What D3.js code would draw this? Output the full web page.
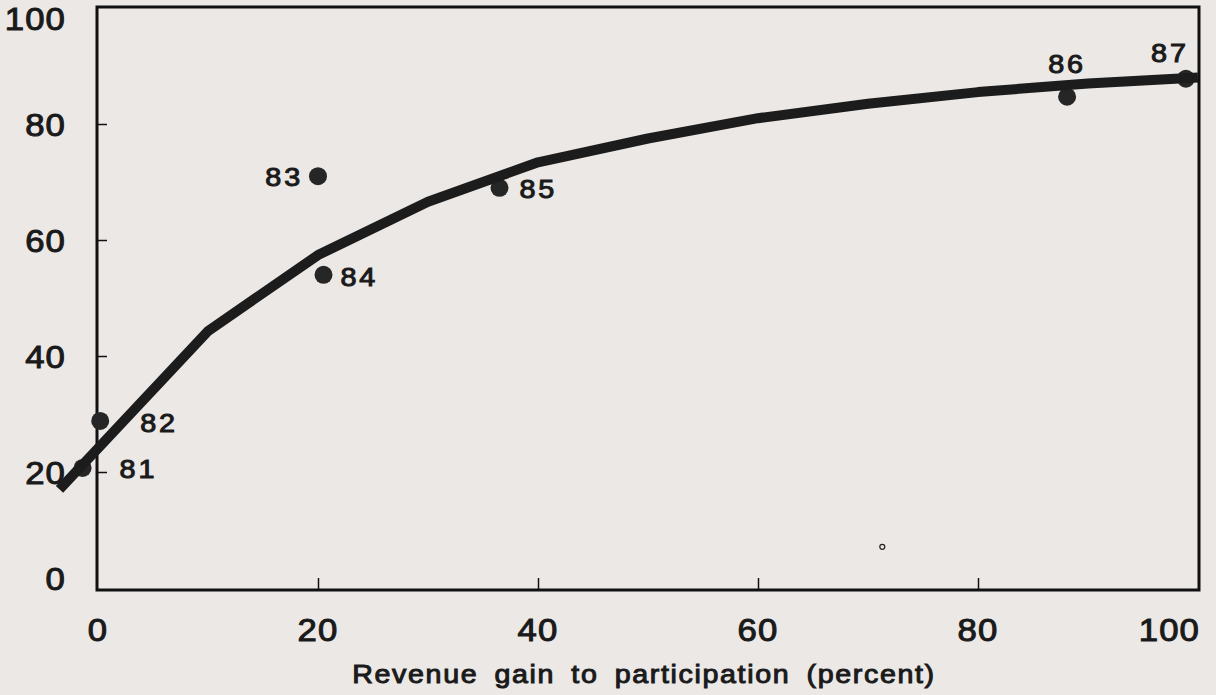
<!DOCTYPE html>
<html><head><meta charset="utf-8">
<script src="https://cdn.jsdelivr.net/npm/d3@7"></script>
<style>
html,body{margin:0;padding:0;background:#ebe8e6;}
svg{display:block;}
text{font-family:"Liberation Sans",Arial,sans-serif;fill:#1a1a1a;stroke:#1a1a1a;stroke-width:1px;}
</style></head>
<body>
<script>
// Data
const years = ["81","82","83","84","85","86","87"];
const revenueGain = [-1.4, 0.2, 20.0, 20.5, 36.5, 88.1, 98.9];
const participation = [20.7, 28.8, 71.0, 54.0, 69.0, 84.7, 87.8];
const curveX = [-3.5, 10, 20, 30, 40, 50, 60, 70, 80, 90, 100];
const curveY = [17, 44.3, 57.4, 66.6, 73.4, 77.5, 81.0, 83.5, 85.5, 87.0, 88.0];
const xTicks = [0, 20, 40, 60, 80, 100];
const yTicks = [0, 20, 40, 60, 80, 100];
const xTitle = "Revenue gain to participation (percent)";
const specks = [[71.3, 7.1]];
// label placement relative to each point
const labelSide = ["right","right","left","right","right","above","above"];
const labelDx = [37, 40, -15, 17, 20, 0, -16];
const labelDy = [10, 11, 10, 11, 10, -24, -17];

const W = 1216, H = 695;
const svg = d3.select("body").append("svg").attr("width", W).attr("height", H);
const x = d3.scaleLinear().domain([0, 100]).range([98, 1198]);
const y = d3.scaleLinear().domain([0, 100]).range([588, 8]);

// frame
svg.append("rect").attr("x", 97).attr("y", 7).attr("width", 1102).attr("height", 583)
  .attr("fill", "none").attr("stroke", "#111").attr("stroke-width", 3);

// inner ticks
const xAxis = d3.axisTop(x).tickValues(xTicks.filter(d => d > 0 && d < 100)).tickSize(12).tickFormat("");
svg.append("g").attr("transform", `translate(0,${y(0)+2})`).call(xAxis)
  .call(g => { g.select(".domain").remove(); g.selectAll("line").attr("stroke", "#111").attr("stroke-width", 1.5); });
const yAxis = d3.axisRight(y).tickValues(yTicks.filter(d => d > 0 && d < 100)).tickSize(10).tickFormat("");
svg.append("g").attr("transform", `translate(${x(0)-1},0)`).call(yAxis)
  .call(g => { g.select(".domain").remove(); g.selectAll("line").attr("stroke", "#111").attr("stroke-width", 1.5); });

// tick labels (glyphs slightly widened like the original lettering)
const SX = 1.12;
svg.selectAll(".xl").data(xTicks).enter().append("text")
  .attr("transform", d => `translate(${d === 100 ? x(d) + 2 : x(d)},641) scale(${SX},1)`)
  .attr("text-anchor", d => d === 100 ? "end" : "middle")
  .attr("font-size", 31).attr("letter-spacing", 1).text(d => d);
svg.selectAll(".yl").data(yTicks).enter().append("text")
  .attr("transform", d => `translate(66,${d === 100 ? y(d) + 22 : d === 0 ? y(d) + 2 : y(d) + 12}) scale(${SX},1)`)
  .attr("text-anchor", "end")
  .attr("font-size", 31).attr("letter-spacing", 1).text(d => d);

// axis title
svg.append("text").attr("transform", "translate(644,683) scale(1.1,1)").attr("text-anchor", "middle")
  .attr("font-size", 26).attr("letter-spacing", 1.5).attr("word-spacing", 6).text(xTitle);

// points
const pts = years.map((k, i) => ({k, xv: revenueGain[i], yv: participation[i], side: labelSide[i], dx: labelDx[i], dy: labelDy[i]}));
svg.selectAll(".pt").data(pts).enter().append("circle")
  .attr("cx", d => x(d.xv)).attr("cy", d => y(d.yv)).attr("r", 9).attr("fill", "#262626");

// fitted curve
const line = d3.line().x(d => x(d[0])).y(d => y(d[1]));
svg.append("path").datum(curveX.map((v, i) => [v, curveY[i]]))
  .attr("d", line).attr("fill", "none").attr("stroke", "#1c1c1c")
  .attr("stroke-width", 10).attr("stroke-linejoin", "round");

// point labels
svg.selectAll(".pl").data(pts).enter().append("text")
  .attr("transform", d => `translate(${x(d.xv) + d.dx},${y(d.yv) + d.dy}) scale(1.15,1)`)
  .attr("text-anchor", d => d.side === "right" ? "start" : d.side === "left" ? "end" : "middle")
  .attr("font-size", 25).attr("letter-spacing", 2.5).text(d => d.k);

// small speck
svg.selectAll(".sp").data(specks).enter().append("circle")
  .attr("cx", d => x(d[0])).attr("cy", d => y(d[1])).attr("r", 2.5)
  .attr("fill", "none").attr("stroke", "#222").attr("stroke-width", 1.2);
</script>
</body></html>
